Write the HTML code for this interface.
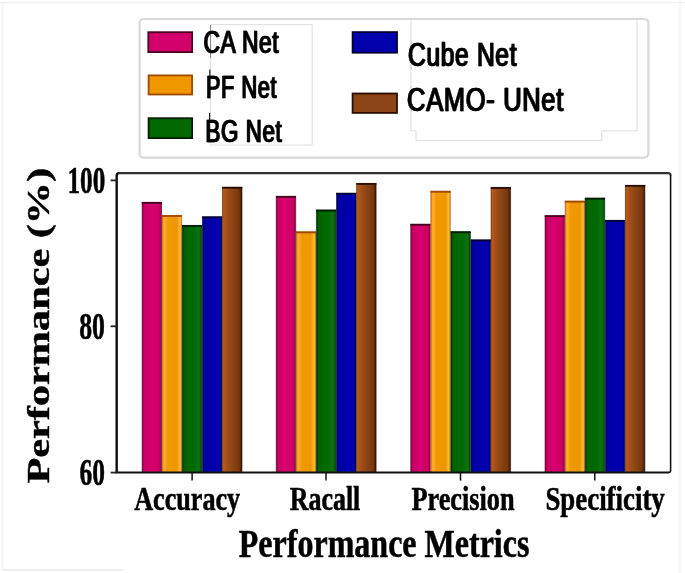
<!DOCTYPE html>
<html><head><meta charset="utf-8"><title>Performance Metrics</title>
<style>
html,body{margin:0;padding:0;background:#fff;overflow:hidden;}
svg{display:block;}
text{fill:#000;}
</style></head>
<body>
<svg width="685" height="573" viewBox="0 0 685 573">
<defs>
<filter id="soft" x="-2%" y="-2%" width="104%" height="104%"><feGaussianBlur stdDeviation="0.55"/></filter>
<filter id="soft2" x="-2%" y="-2%" width="104%" height="104%"><feGaussianBlur stdDeviation="0.5"/></filter>
<filter id="fb" x="-2%" y="-5%" width="104%" height="110%"><feOffset dx="0.5" dy="0" result="o"/><feMerge result="m"><feMergeNode in="SourceGraphic"/><feMergeNode in="o"/></feMerge><feGaussianBlur in="m" stdDeviation="0.5"/></filter>

<linearGradient id="gp" x1="0" x2="1" y1="0" y2="0"><stop offset="0" stop-color="#8c0038"/><stop offset="0.13" stop-color="#cf0068"/><stop offset="0.5" stop-color="#d6006e"/><stop offset="0.87" stop-color="#cc0066"/><stop offset="1" stop-color="#94003c"/></linearGradient>
<linearGradient id="go" x1="0" x2="1" y1="0" y2="0"><stop offset="0" stop-color="#e27a20"/><stop offset="0.1" stop-color="#ffb030"/><stop offset="0.28" stop-color="#f09a00"/><stop offset="0.75" stop-color="#ee9600"/><stop offset="0.92" stop-color="#fdbb38"/><stop offset="1" stop-color="#d09a20"/></linearGradient>
<linearGradient id="gg" x1="0" x2="1" y1="0" y2="0"><stop offset="0" stop-color="#003600"/><stop offset="0.13" stop-color="#006300"/><stop offset="0.5" stop-color="#006a00"/><stop offset="0.86" stop-color="#0a7012"/><stop offset="1" stop-color="#004a00"/></linearGradient>
<linearGradient id="gb" x1="0" x2="1" y1="0" y2="0"><stop offset="0" stop-color="#00006c"/><stop offset="0.13" stop-color="#0000a6"/><stop offset="0.87" stop-color="#0000b0"/><stop offset="1" stop-color="#000066"/></linearGradient>
<linearGradient id="gr" x1="0" x2="1" y1="0" y2="0"><stop offset="0" stop-color="#c05c12"/><stop offset="0.18" stop-color="#a8521a"/><stop offset="0.5" stop-color="#8b4513"/><stop offset="0.85" stop-color="#783810"/><stop offset="1" stop-color="#3a1400"/></linearGradient>
</defs>
<rect x="0" y="0" width="685" height="573" fill="#fff"/>
<g filter="url(#soft)">
<!-- faint artifacts -->
<line x1="0" y1="2.5" x2="685" y2="2.5" stroke="#f0f0f0" stroke-width="1.5"/>
<line x1="680" y1="0" x2="680" y2="573" stroke="#f4f4f4" stroke-width="1.5"/>
<line x1="2.5" y1="2" x2="2.5" y2="570" stroke="#f2f2f2" stroke-width="1.5"/>
<line x1="3" y1="570" x2="123" y2="570" stroke="#e8e8e8" stroke-width="1.5"/>
<!-- legend -->
<rect x="139.6" y="19" width="508.8" height="138.6" rx="4" ry="4" fill="#fff" stroke="#d8d8d8" stroke-width="2.2"/>
<path d="M210.4 145 V24.7 H312.2 V145 Z" fill="none" stroke="#dedede" stroke-width="1"/>
<path d="M411 19.5 V130.9 H416 V140.4 H601.8 V130.9 H637 V19.5" fill="none" stroke="#dcdcdc" stroke-width="1"/>
<path d="M210.6 25 V58" fill="none" stroke="#666" stroke-width="0.8"/>
<path d="M209.8 69.5 V78 M209.6 113 V122" fill="none" stroke="#222" stroke-width="1.2"/>
<path d="M411 40 V70 M411 86 V112" fill="none" stroke="#c4c4c4" stroke-width="0.8"/>
<rect x="148.3" y="32.2" width="43.8" height="19.9" fill="#D4006C" stroke="#4a0022" stroke-width="1.8"/>
<rect x="148.6" y="75.4" width="43.5" height="19.1" fill="#F09700" stroke="#a04800" stroke-width="1.8"/>
<rect x="148.6" y="118.2" width="43.5" height="19.9" fill="#006900" stroke="#001c00" stroke-width="1.8"/>
<rect x="352.6" y="32.1" width="44.4" height="20.6" fill="#0000AC" stroke="#000030" stroke-width="1.8"/>
<rect x="352.6" y="93.5" width="44.4" height="19.4" fill="#8B4513" stroke="#2a1000" stroke-width="1.8"/>
<!-- bars -->
<rect x="142.10" y="202.30" width="19.50" height="270.20" fill="url(#gp)" stroke="#4a0022" stroke-opacity="0.55" stroke-width="1"/><line x1="141.80" y1="202.90" x2="161.90" y2="202.90" stroke="#4a0022" stroke-width="1.8"/>
<rect x="162.20" y="215.40" width="19.50" height="257.10" fill="url(#go)" stroke="#a04800" stroke-opacity="0.55" stroke-width="1"/><line x1="161.90" y1="216.00" x2="182.00" y2="216.00" stroke="#a04800" stroke-width="1.8"/>
<rect x="182.30" y="225.40" width="19.50" height="247.10" fill="url(#gg)" stroke="#001c00" stroke-opacity="0.55" stroke-width="1"/><line x1="182.00" y1="226.00" x2="202.10" y2="226.00" stroke="#001c00" stroke-width="1.8"/>
<rect x="202.40" y="216.80" width="19.50" height="255.70" fill="url(#gb)" stroke="#000030" stroke-opacity="0.55" stroke-width="1"/><line x1="202.10" y1="217.40" x2="222.20" y2="217.40" stroke="#000030" stroke-width="1.8"/>
<rect x="222.50" y="187.20" width="19.50" height="285.30" fill="url(#gr)" stroke="#2a1000" stroke-opacity="0.55" stroke-width="1"/><line x1="222.20" y1="187.80" x2="242.30" y2="187.80" stroke="#2a1000" stroke-width="1.8"/>
<rect x="276.20" y="196.30" width="19.50" height="276.20" fill="url(#gp)" stroke="#4a0022" stroke-opacity="0.55" stroke-width="1"/><line x1="275.90" y1="196.90" x2="296.00" y2="196.90" stroke="#4a0022" stroke-width="1.8"/>
<rect x="296.30" y="231.80" width="19.50" height="240.70" fill="url(#go)" stroke="#a04800" stroke-opacity="0.55" stroke-width="1"/><line x1="296.00" y1="232.40" x2="316.10" y2="232.40" stroke="#a04800" stroke-width="1.8"/>
<rect x="316.40" y="210.00" width="19.50" height="262.50" fill="url(#gg)" stroke="#001c00" stroke-opacity="0.55" stroke-width="1"/><line x1="316.10" y1="210.60" x2="336.20" y2="210.60" stroke="#001c00" stroke-width="1.8"/>
<rect x="336.50" y="193.20" width="19.50" height="279.30" fill="url(#gb)" stroke="#000030" stroke-opacity="0.55" stroke-width="1"/><line x1="336.20" y1="193.80" x2="356.30" y2="193.80" stroke="#000030" stroke-width="1.8"/>
<rect x="356.60" y="183.40" width="19.50" height="289.10" fill="url(#gr)" stroke="#2a1000" stroke-opacity="0.55" stroke-width="1"/><line x1="356.30" y1="184.00" x2="376.40" y2="184.00" stroke="#2a1000" stroke-width="1.8"/>
<rect x="410.70" y="224.20" width="19.50" height="248.30" fill="url(#gp)" stroke="#4a0022" stroke-opacity="0.55" stroke-width="1"/><line x1="410.40" y1="224.80" x2="430.50" y2="224.80" stroke="#4a0022" stroke-width="1.8"/>
<rect x="430.80" y="191.20" width="19.50" height="281.30" fill="url(#go)" stroke="#a04800" stroke-opacity="0.55" stroke-width="1"/><line x1="430.50" y1="191.80" x2="450.60" y2="191.80" stroke="#a04800" stroke-width="1.8"/>
<rect x="450.90" y="231.70" width="19.50" height="240.80" fill="url(#gg)" stroke="#001c00" stroke-opacity="0.55" stroke-width="1"/><line x1="450.60" y1="232.30" x2="470.70" y2="232.30" stroke="#001c00" stroke-width="1.8"/>
<rect x="471.00" y="239.90" width="19.50" height="232.60" fill="url(#gb)" stroke="#000030" stroke-opacity="0.55" stroke-width="1"/><line x1="470.70" y1="240.50" x2="490.80" y2="240.50" stroke="#000030" stroke-width="1.8"/>
<rect x="491.10" y="187.40" width="19.50" height="285.10" fill="url(#gr)" stroke="#2a1000" stroke-opacity="0.55" stroke-width="1"/><line x1="490.80" y1="188.00" x2="510.90" y2="188.00" stroke="#2a1000" stroke-width="1.8"/>
<rect x="545.00" y="215.60" width="19.50" height="256.90" fill="url(#gp)" stroke="#4a0022" stroke-opacity="0.55" stroke-width="1"/><line x1="544.70" y1="216.20" x2="564.80" y2="216.20" stroke="#4a0022" stroke-width="1.8"/>
<rect x="565.10" y="201.10" width="19.50" height="271.40" fill="url(#go)" stroke="#a04800" stroke-opacity="0.55" stroke-width="1"/><line x1="564.80" y1="201.70" x2="584.90" y2="201.70" stroke="#a04800" stroke-width="1.8"/>
<rect x="585.20" y="198.10" width="19.50" height="274.40" fill="url(#gg)" stroke="#001c00" stroke-opacity="0.55" stroke-width="1"/><line x1="584.90" y1="198.70" x2="605.00" y2="198.70" stroke="#001c00" stroke-width="1.8"/>
<rect x="605.30" y="220.30" width="19.50" height="252.20" fill="url(#gb)" stroke="#000030" stroke-opacity="0.55" stroke-width="1"/><line x1="605.00" y1="220.90" x2="625.10" y2="220.90" stroke="#000030" stroke-width="1.8"/>
<rect x="625.40" y="185.30" width="19.50" height="287.20" fill="url(#gr)" stroke="#2a1000" stroke-opacity="0.55" stroke-width="1"/><line x1="625.10" y1="185.90" x2="645.20" y2="185.90" stroke="#2a1000" stroke-width="1.8"/>
<!-- axes -->
<path d="M116.7 472.5 V175.6 Q116.7 173.1 119.2 173.1" fill="none" stroke="#0a0a0a" stroke-width="2.4"/>
<path d="M118.7 173.1 H668.1 Q670.6 173.1 670.6 175.6" fill="none" stroke="#333" stroke-width="2.2"/>
<path d="M670.6 175.1 V470.5 Q670.6 472.5 668.6 472.5" fill="none" stroke="#111" stroke-width="1.5"/>
<line x1="115.7" y1="472.5" x2="669.1" y2="472.5" stroke="#111" stroke-width="2"/>
<line x1="192.1" y1="472.5" x2="192.1" y2="480.6" stroke="#111" stroke-width="1.5"/><line x1="326.0" y1="472.5" x2="326.0" y2="480.6" stroke="#111" stroke-width="1.5"/><line x1="460.5" y1="472.5" x2="460.5" y2="480.6" stroke="#111" stroke-width="1.5"/><line x1="594.8" y1="472.5" x2="594.8" y2="480.6" stroke="#111" stroke-width="1.5"/>
<line x1="110.6" y1="180.4" x2="116.7" y2="180.4" stroke="#222" stroke-width="1.8"/><line x1="110.6" y1="326.3" x2="116.7" y2="326.3" stroke="#222" stroke-width="1.8"/><line x1="110.6" y1="472.6" x2="116.7" y2="472.6" stroke="#222" stroke-width="1.8"/>
</g>
<g filter="url(#fb)">
<text transform="translate(203.01 53.15) scale(0.2274 0.3071)" font-family="'Liberation Sans', sans-serif" font-weight="normal" font-size="100" stroke="#000" stroke-width="0.5" vector-effect="non-scaling-stroke"  letter-spacing="2.7">CA Net</text>
<text transform="translate(205.41 97.55) scale(0.2174 0.3058)" font-family="'Liberation Sans', sans-serif" font-weight="normal" font-size="100" stroke="#000" stroke-width="0.5" vector-effect="non-scaling-stroke"  letter-spacing="2.7">PF Net</text>
<text transform="translate(205.07 142.05) scale(0.2228 0.3058)" font-family="'Liberation Sans', sans-serif" font-weight="normal" font-size="100" stroke="#000" stroke-width="0.5" vector-effect="non-scaling-stroke"  letter-spacing="2.7">BG Net</text>
<text transform="translate(407.52 65.95) scale(0.2459 0.3371)" font-family="'Liberation Sans', sans-serif" font-weight="normal" font-size="100" stroke="#000" stroke-width="0.5" vector-effect="non-scaling-stroke"  letter-spacing="2.7">Cube Net</text>
<text transform="translate(406.58 110.85) scale(0.2548 0.3300)" font-family="'Liberation Sans', sans-serif" font-weight="normal" font-size="100" stroke="#000" stroke-width="0.5" vector-effect="non-scaling-stroke"  letter-spacing="2.7">CAMO- UNet</text>
</g>
<g filter="url(#soft2)">
<text transform="translate(67.43 193.31) scale(0.2522 0.3721)" font-family="'Liberation Serif', serif" font-weight="bold" font-size="100" stroke="#000" stroke-width="0.5" vector-effect="non-scaling-stroke" >100</text>
<text transform="translate(79.18 338.79) scale(0.2581 0.3791)" font-family="'Liberation Serif', serif" font-weight="bold" font-size="100" stroke="#000" stroke-width="0.5" vector-effect="non-scaling-stroke" >80</text>
<text transform="translate(79.49 485.27) scale(0.2548 0.3881)" font-family="'Liberation Serif', serif" font-weight="bold" font-size="100" stroke="#000" stroke-width="0.5" vector-effect="non-scaling-stroke" >60</text>
<text transform="translate(134.19 509.95) scale(0.2615 0.3364)" font-family="'Liberation Serif', serif" font-weight="bold" font-size="100" stroke="#000" stroke-width="0.5" vector-effect="non-scaling-stroke" >Accuracy</text>
<text transform="translate(289.63 509.95) scale(0.2599 0.3292)" font-family="'Liberation Serif', serif" font-weight="bold" font-size="100" stroke="#000" stroke-width="0.5" vector-effect="non-scaling-stroke" >Racall</text>
<text transform="translate(411.42 509.95) scale(0.2630 0.3292)" font-family="'Liberation Serif', serif" font-weight="bold" font-size="100" stroke="#000" stroke-width="0.5" vector-effect="non-scaling-stroke" >Precision</text>
<text transform="translate(545.41 510.05) scale(0.2687 0.3369)" font-family="'Liberation Serif', serif" font-weight="bold" font-size="100" stroke="#000" stroke-width="0.5" vector-effect="non-scaling-stroke" >Specificity</text>
<text transform="translate(238.81 557.05) scale(0.3203 0.4046)" font-family="'Liberation Serif', serif" font-weight="bold" font-size="100" stroke="#000" stroke-width="0.5" vector-effect="non-scaling-stroke" >Performance Metrics</text>
<text transform="translate(49.20 483.50) rotate(-90) scale(0.4230 0.3123)" font-family="'Liberation Serif', serif" font-weight="bold" font-size="100" stroke="#000" stroke-width="0.5" vector-effect="non-scaling-stroke">Performance (%)</text>
</g>
</svg>
</body></html>
